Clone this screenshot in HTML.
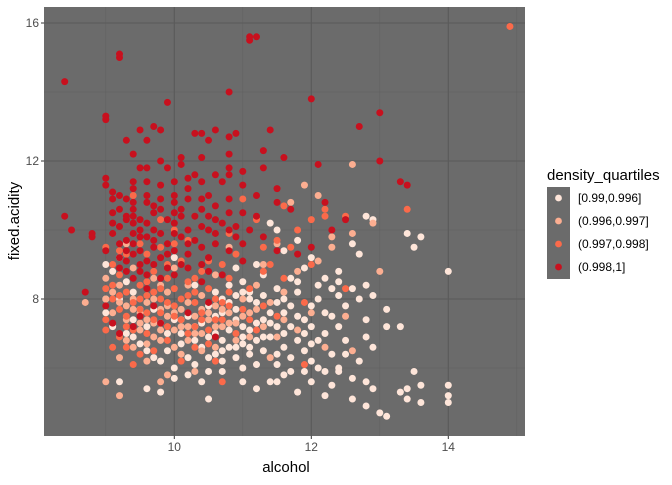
<!DOCTYPE html>
<html><head><meta charset="utf-8"><style>
body{margin:0;background:#fff;font-family:"Liberation Sans",Arial,sans-serif}
svg text{font-family:"Liberation Sans",Arial,sans-serif}
</style></head><body>
<svg id="chart" width="672" height="480" viewBox="0 0 672 480">
<rect x="44" y="7" width="481" height="429" fill="#6b6b6b"/>
<g id="grid"></g>
<g id="pts"></g>
<g id="axes"></g>
<text x="286" y="472" font-size="15" text-anchor="middle" fill="#000">alcohol</text>
<text transform="translate(19,221) rotate(-90)" font-size="15" text-anchor="middle" fill="#000">fixed.acidity</text>
<g>
<text x="547" y="180" font-size="15" fill="#000">density_quartiles</text>
<rect x="547" y="187" width="23" height="92" fill="#6b6b6b"/>
<g id="leg"></g>
</g>
</svg>
<script>
const categories=["[0.99,0.996]","(0.996,0.997]","(0.997,0.998]","(0.998,1]"];
const colors=["#FEE5D9","#FCAE91","#FB6A4A","#C8101E"];
const xTicks=[10,12,14];
const yTicks=[8,12,16];
const q4="8.4 14.3;9.2 15.0;9.2 15.1;11.1 15.5;11.1 15.6;11.2 15.6;9.9 13.7;10.8 14.0;12.0 13.8;11.4 12.9;13.0 13.4;12.7 13.0;9.0 13.3;9.0 13.2;9.3 12.6;9.5 12.9;9.6 12.6;9.8 12.9;9.7 13.0;10.3 12.8;10.4 12.8;10.5 12.6;10.6 12.9;10.8 12.7;10.9 12.8;10.8 12.2;11.3 12.3;11.6 12.1;11.3 11.8;12.1 11.9;13.0 12.0;13.3 11.4;13.4 11.3;9.4 12.2;9.5 11.8;9.6 11.8;9.8 12.0;9.9 11.8;10.1 12.1;10.1 11.9;10.2 11.5;10.3 11.6;10.4 12.1;10.4 11.4;10.6 11.6;10.7 11.4;10.8 11.8;10.8 11.6;11.0 11.7;11.0 11.3;11.2 11.0;11.5 11.2;11.5 10.8;11.7 10.6;12.2 10.8;12.5 10.3;9.0 11.3;9.0 11.5;9.1 11.1;9.1 10.9;9.2 11.0;9.3 10.9;9.2 10.6;9.3 10.4;9.1 10.2;9.3 10.3;9.4 10.6;9.5 10.3;9.6 10.8;9.7 10.5;9.8 10.9;9.6 10.2;9.8 10.6;9.9 10.3;10.0 10.8;10.0 10.5;10.0 10.2;10.1 10.6;10.2 10.9;10.3 10.4;10.4 10.9;10.5 10.4;10.5 10.0;10.6 10.7;10.7 10.2;10.8 10.5;10.9 10.1;11.0 10.5;11.1 10.0;11.2 10.4;11.3 9.8;8.4 10.4;8.5 10.0;8.8 9.9;8.8 9.8;9.1 9.9;9.2 9.6;9.4 9.9;9.4 9.6;9.5 9.4;9.6 9.8;9.7 9.5;9.8 9.2;9.9 9.6;10.0 9.4;10.1 9.8;10.2 9.3;10.3 9.7;10.4 9.5;10.5 9.2;10.6 9.6;10.8 9.4;10.9 9.8;11.0 9.1;9.5 9.0;9.6 8.7;9.7 9.0;9.8 8.6;9.9 8.9;10.0 8.7;10.2 8.9;10.4 8.5;10.5 8.8;9.4 8.6;9.3 8.8;9.6 8.3;9.7 7.8;9.8 7.3;9.5 7.5;10.2 7.6;10.5 7.9;10.6 6.9;8.7 8.2;9.2 7.0;9.4 7.2;11.8 9.3;12.0 9.5;12.3 10.0;11.5 9.4;9.2 9.2;9.0 9.4;9.3 9.1;10.7 8.7;9.1 7.3;9.0 7.8;9.4 11.2;9.4 11.4;9.4 10.8;9.4 10.4;9.4 10.2;9.5 10.0;9.5 9.8;9.3 9.7;9.3 9.4;9.6 9.1;9.6 11.0;9.6 11.4;9.7 10.0;9.7 10.7;9.8 9.9;9.8 11.3;10.0 11.0;10.0 11.4;10.1 10.4;10.2 10.0;10.2 11.2;10.4 10.1;10.4 10.6;10.5 11.0;10.6 10.3;10.6 9.9;10.8 10.9;10.8 10.0;10.0 9.9;10.2 9.6;9.1 10.5;9.2 10.1;9.7 9.7;9.9 9.3;10.1 9.0;10.4 9.0;9.5 8.8;9.4 9.3;9.2 8.9;11.0 9.6";
const q3="14.9 15.9;9.4 11.0;9.8 10.3;10.0 10.0;10.2 9.7;10.8 9.9;11.0 10.9;11.2 10.3;11.3 9.5;11.5 9.7;11.7 9.5;11.8 10.0;11.6 10.7;12.0 10.3;12.2 10.6;12.2 10.4;12.5 10.4;13.4 10.6;12.5 8.3;11.6 8.6;11.3 8.8;11.1 8.3;10.7 9.0;10.5 9.1;10.9 9.3;9.0 9.5;9.1 9.0;9.2 8.7;9.0 8.3;9.1 8.0;9.2 7.7;9.3 8.2;9.4 7.9;9.5 8.4;9.5 8.0;9.6 7.6;9.7 8.2;9.8 8.0;9.8 7.6;9.9 7.2;10.0 8.3;10.0 7.8;10.1 7.4;10.2 8.1;10.3 7.9;10.3 7.2;10.4 7.6;10.5 8.3;10.6 7.4;10.7 7.9;10.8 8.2;10.9 7.0;11.0 7.7;11.1 7.4;11.3 7.8;11.5 7.5;9.2 6.9;9.3 6.6;9.5 6.4;9.6 7.0;9.7 6.5;9.9 6.8;10.1 6.2;10.3 6.6;10.5 6.7;10.6 6.2;10.7 5.6;9.3 9.3;9.6 9.3;9.9 9.0;10.1 9.1;10.3 8.6;9.0 7.4;9.0 7.1;9.1 6.6;11.9 7.9;12.0 9.0;11.4 9.0;10.8 8.6;11.9 6.1;9.4 6.1;11.2 7.1;9.1 8.4;9.2 8.1;9.3 7.5;9.4 7.1;9.5 7.7;9.6 8.1;9.7 7.4;9.8 8.3;9.9 7.9;10.0 7.5;10.1 8.0;10.2 7.0;10.3 8.2;10.4 7.4;10.5 7.1;10.6 8.0;10.7 7.4;10.8 7.8;9.7 8.8;9.8 9.5;10.0 9.6;9.5 9.6;9.2 9.4;9.6 8.5;10.2 8.5;10.4 8.8;9.9 8.6;9.3 7.2";
const q2="12.6 11.9;12.1 11.0;11.9 11.3;11.7 10.8;12.3 9.8;12.6 9.9;11.5 9.6;12.1 9.1;13.0 8.8;11.6 8.2;8.7 7.9;9.0 8.6;9.0 8.0;9.1 7.6;9.2 8.4;9.3 7.4;9.4 7.7;9.5 7.1;9.5 7.3;9.6 7.9;9.7 7.3;9.7 6.9;9.8 7.7;9.8 6.8;9.9 7.5;9.9 8.2;10.0 7.1;10.0 6.6;10.1 7.7;10.2 7.2;10.2 6.8;10.3 7.5;10.4 8.1;10.4 7.0;10.5 7.4;10.6 7.8;10.6 6.6;10.7 7.2;10.8 7.6;10.9 7.3;10.9 6.8;11.0 8.0;11.1 7.6;11.1 6.9;11.2 8.4;11.3 7.2;11.4 7.9;11.5 6.9;11.6 7.4;11.8 7.1;12.0 7.6;12.2 6.6;12.5 7.5;12.6 6.5;11.4 6.3;9.2 6.3;9.4 6.6;9.6 6.2;10.1 6.4;10.3 5.9;9.9 5.8;9.8 5.6;9.2 5.2;9.0 5.6;10.6 8.7;10.0 8.9;9.7 8.6;11.8 8.8;10.8 9.5;9.3 9.6;11.3 9.0;12.9 10.2;12.3 9.5;9.1 8.2;9.2 7.9;9.3 7.8;9.4 8.0;9.5 7.6;9.6 7.4;9.7 8.0;9.8 7.1;9.9 7.8;10.0 7.6;10.1 7.2;10.2 7.9;10.3 7.0;10.4 7.7;10.5 7.6;10.6 7.2;10.7 7.7;10.8 7.3;11.0 7.5;11.2 7.7;9.4 8.9;9.8 8.4;10.2 8.4;9.6 6.7;10.4 6.5;9.3 6.8";
const q1="12.9 10.3;13.5 9.5;13.4 9.9;13.6 9.8;14.0 8.8;12.7 9.3;12.4 8.8;12.8 8.4;13.1 7.7;13.3 7.2;12.9 6.6;13.5 5.9;13.6 5.5;14.0 5.5;14.0 5.2;14.0 5.0;13.4 5.4;13.4 5.1;13.6 5.0;12.9 5.4;12.8 5.6;12.6 5.1;12.8 4.9;13.0 4.7;13.1 4.6;12.3 5.5;12.2 5.2;12.0 6.2;12.4 6.0;12.5 6.4;12.7 6.2;12.8 6.9;12.5 6.8;12.2 7.0;12.3 7.5;12.5 7.8;12.7 8.0;12.6 8.3;12.4 8.1;12.1 8.0;12.0 7.8;11.9 7.4;11.7 7.8;11.8 8.2;11.6 7.6;11.5 7.9;11.4 7.6;11.3 7.4;11.2 7.9;11.1 8.2;11.0 7.2;10.9 7.7;10.8 7.1;10.7 7.6;10.6 7.0;10.5 7.8;10.4 7.3;10.3 6.8;10.2 7.5;10.1 7.0;10.0 7.4;9.9 7.0;9.8 7.3;9.7 7.7;9.6 7.2;9.5 7.7;9.4 7.4;9.2 8.0;9.0 8.0;9.0 7.6;9.1 7.2;9.3 7.0;9.4 6.9;9.5 6.7;9.6 6.5;9.7 6.3;9.8 6.2;9.9 6.5;10.0 6.0;10.1 6.7;10.2 6.3;10.3 6.1;10.4 6.6;10.5 6.3;10.5 5.9;10.6 6.4;10.7 6.2;10.8 6.6;10.9 6.3;11.0 6.7;11.0 6.0;11.1 6.4;11.2 6.8;11.2 6.1;11.3 6.5;11.4 6.9;11.5 6.4;11.5 6.1;11.6 6.6;11.7 6.3;11.8 6.8;11.9 6.5;11.9 5.9;12.0 6.7;12.1 6.0;11.6 5.8;11.4 5.6;11.0 5.6;10.7 5.9;10.4 5.6;10.2 5.8;10.0 5.7;9.8 5.3;9.6 5.4;9.2 5.6;10.5 5.1;11.2 5.4;11.5 5.6;11.8 5.3;12.4 5.9;11.9 8.9;11.7 8.6;11.5 8.3;11.3 8.7;11.0 8.5;10.9 8.9;10.8 8.4;10.6 8.2;11.2 9.0;11.6 9.4;11.4 10.2;11.8 9.7;12.0 9.2;12.2 8.6;12.3 8.3;12.6 9.6;12.8 10.4;11.5 10.0;11.1 8.0;9.1 8.8;9.2 9.2;9.0 9.0;9.3 8.5;9.4 8.2;10.0 9.2;10.3 8.4;10.7 8.0;10.9 8.1;12.9 8.1;13.1 7.2;12.8 7.4;13.3 5.3;10.6 7.5;10.7 6.8;10.8 7.9;10.9 7.4;11.0 6.9;11.1 7.1;11.2 7.3;11.3 6.9;11.4 7.3;11.5 7.2;11.6 7.0;11.7 7.2;11.8 7.5;11.9 7.0;12.0 7.2;12.1 6.8;12.2 7.6;12.3 6.4;12.4 7.2;11.0 8.2;11.3 8.1;11.6 8.0;11.8 8.5;12.1 8.4;12.4 8.5;10.9 6.6;11.1 6.6;10.7 6.5;10.5 6.9;10.3 7.2;10.1 7.4;11.7 5.9;12.0 5.6;12.2 5.9;12.6 5.7";
const series=[q1,q2,q3,q4];
const NS="http://www.w3.org/2000/svg";
const xs=v=>174.3+(v-10)*68.5;
const ys=v=>161-(v-12)*34.5;
const L=44,R=525,T=7,B=436;
const grid=document.getElementById('grid');
function line(x1,y1,x2,y2,c,w,g){const l=document.createElementNS(NS,'line');l.setAttribute('x1',x1);l.setAttribute('y1',y1);l.setAttribute('x2',x2);l.setAttribute('y2',y2);l.setAttribute('stroke',c);l.setAttribute('stroke-width',w);g.appendChild(l);return l;}
for(let v=9;v<=15;v+=2){const l=line(xs(v),T,xs(v),B,'#606060',0.6,grid);

}
for(let v=6;v<=14;v+=4){const l=line(L,ys(v),R,ys(v),'#606060',0.6,grid);

}
xTicks.forEach(v=>{const l=line(xs(v),T,xs(v),B,'#5a5a5a',1.1,grid);

});
yTicks.forEach(v=>{const l=line(L,ys(v),R,ys(v),'#5a5a5a',1.1,grid);

});
const axes=document.getElementById('axes');
xTicks.forEach(v=>{line(xs(v),B,xs(v),B+3,'#333',1,axes);const t=document.createElementNS(NS,'text');t.setAttribute('x',xs(v));t.setAttribute('y',B+15);t.setAttribute('font-size','12');t.setAttribute('fill','#4d4d4d');t.setAttribute('text-anchor','middle');t.textContent=v;


axes.appendChild(t);});
yTicks.forEach(v=>{line(L-3,ys(v),L,ys(v),'#333',1,axes);const t=document.createElementNS(NS,'text');t.setAttribute('x',L-5);t.setAttribute('y',ys(v)+4);t.setAttribute('font-size','12');t.setAttribute('fill','#4d4d4d');t.setAttribute('text-anchor','end');t.textContent=v;


axes.appendChild(t);});
const pts=document.getElementById('pts');
series.forEach((s,i)=>{s.split(';').forEach(p=>{const [a,b]=p.trim().split(/\s+/).map(Number);const c=document.createElementNS(NS,'circle');c.setAttribute('cx',xs(a));c.setAttribute('cy',ys(b));c.setAttribute('r',3.5);c.setAttribute('fill',colors[i]);


pts.appendChild(c);});});
const leg=document.getElementById('leg');
categories.forEach((c,i)=>{const y=198+i*23;const d=document.createElementNS(NS,'circle');d.setAttribute('cx',558.5);d.setAttribute('cy',y);d.setAttribute('r',3.4);d.setAttribute('fill',colors[i]);


leg.appendChild(d);const t=document.createElementNS(NS,'text');t.setAttribute('x',578);t.setAttribute('y',y+4);t.setAttribute('font-size','12');t.setAttribute('fill','#000');t.textContent=c;


leg.appendChild(t);});
</script>
</body></html>
